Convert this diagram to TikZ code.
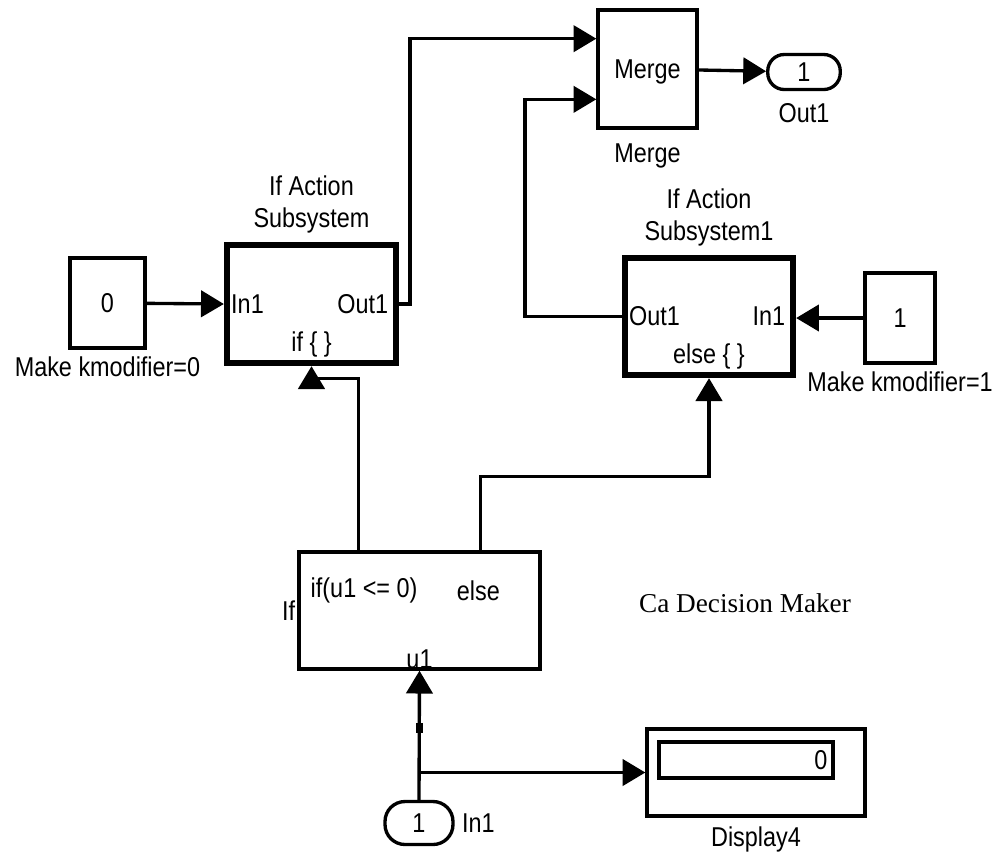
\documentclass[tikz,border=0pt]{standalone}
\usepackage{fontspec}
\setmainfont{Liberation Sans}[FakeStretch=0.86]
\newfontfamily\capfont{Liberation Serif}
\usetikzlibrary{arrows.meta, calc, positioning}

\begin{document}
\begin{tikzpicture}[
  x=0.02cm, y=-0.02cm,
  every node/.style = {font=\fontsize{15.5}{18}\selectfont},
  blk/.style     = {draw, line width=1.9pt, inner sep=0pt},
  subsys/.style  = {draw, line width=3.6pt, inner sep=0pt, minimum width=3.38cm, minimum height=2.36cm},
  term/.style    = {draw, line width=1.9pt, rounded corners=0.33cm, minimum width=1.45cm, minimum height=0.7cm, inner sep=0pt},
  sig/.style     = {-{Triangle[length=13pt,width=15pt]}, line width=1.9pt},
  port/.style    = {inner sep=4pt},
  lbl/.style     = {align=center, inner sep=2pt},
]
\useasboundingbox (0,0) rectangle (1000,860);
% blocks
\node[blk, minimum width=1.98cm, minimum height=2.36cm, text depth=0pt] (merge) at (647.5,69) {Merge};
\node[lbl, below=6pt of merge] {Merge};
\node[term] (out1) at (804,72) {1};
\node[lbl, below=5pt of out1] {Out1};
\node[subsys] (sub) at (311.5,304) {};
\node[lbl, above=3pt of sub] {If Action\\Subsystem};
\node[blk, minimum width=1.5cm, minimum height=1.8cm] (constzero) at (107.5,303) {0};
\node[lbl, below=2pt of constzero] {Make kmodifier=0};
\node[subsys, minimum width=3.36cm, minimum height=2.34cm] (subb) at (709,316.5) {};
\node[lbl, above=3pt of subb] {If Action\\Subsystem1};
\node[blk, minimum width=1.4cm, minimum height=1.8cm] (constone) at (900,318) {1};
\node[lbl, below=2pt of constone] {Make kmodifier=1};
\node[blk, minimum width=4.82cm, minimum height=2.34cm, label={[inner sep=1pt]left:If}] (ifblk) at (419.5,610.5) {};
\node[term, minimum width=1.36cm, minimum height=0.86cm, rounded corners=0.4cm] (in1) at (419,823) {1};
\node[port, right=0pt of in1] {In1};
\node[blk, minimum width=4.36cm, minimum height=1.74cm] (display) at (756,772.5) {};
\node[blk, minimum width=3.48cm, minimum height=0.72cm] (screen) at (746,760) {};
\node[lbl, below=3pt of display] {Display4};
\node[font=\capfont\fontsize{15.5}{18}\selectfont] (title) at (745,603) {Ca Decision Maker};
% port texts
\node[port, anchor=west] at (sub.west) {In1};
\node[port, anchor=east, inner sep=6pt] at (sub.east) {Out1};
\node[port, anchor=south, inner sep=5pt] at (sub.south) {if \{ \}};
\node[port, anchor=west] at (subb.west) {Out1};
\node[port, anchor=east, inner sep=6pt] at (subb.east) {In1};
\node[port, anchor=south, inner sep=5pt] at (subb.south) {else \{ \}};
\node[port, anchor=west] at ($(ifblk.north west)+(6,40)$) {if(u1 <= 0)};
\node[port] at ($(ifblk.north west)+(181,40)$) {else};
\node[port, anchor=south, inner sep=1pt] at (ifblk.south) {u1};
\node[port, anchor=east, inner sep=4pt] at (screen.east) {0};
% ports
\coordinate (min1) at ($(merge.north west)!0.25!(merge.south west)$);
\coordinate (min2) at ($(merge.north west)!0.75!(merge.south west)$);
\coordinate (ifo1) at ($(ifblk.north west)!0.25!(ifblk.north east)$);
\coordinate (ifo2) at ($(ifblk.north west)!0.75!(ifblk.north east)$);
\coordinate (br) at (in1.north |- display.west);
% signals
\draw[sig] (constzero) -- (sub.west);
\draw[sig] (sub.east) -- ++(11,0) |- (min1);
\draw[sig] (subb.west) -- ++(-97,0) |- (min2);
\draw[sig] (merge) -- (out1);
\draw[sig] (constone.west) -- (constone.west -| subb.east);
\draw[sig] (ifo1) -- ++(0,-172) -| (sub.south);
\draw[sig] (ifo2) -- ++(0,-74) -| (subb.south);
\draw[sig] (in1.north) -- (ifblk.south);
\draw[sig] (br) -- (display.west);
\fill ($(in1.north |- 0,728)+(-3.5,-5)$) rectangle ++(7,10);
\end{tikzpicture}
\end{document}
